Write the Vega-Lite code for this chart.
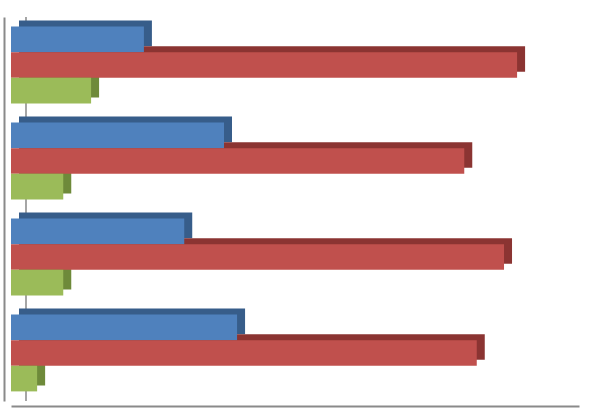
{
  "$schema": "https://vega.github.io/schema/vega-lite/v6.json",
  "width": 568,
  "height": 384,
  "autosize": {"type": "none"},
  "padding": {"left": 11, "top": 17, "right": 30, "bottom": 9},
  "background": "white",
  "config": {"view": {"stroke": null}},
  "data": {
    "values": [
      {"cat": "A", "series": "S1", "value": 23.4},
      {"cat": "A", "series": "S2", "value": 89.1},
      {"cat": "A", "series": "S3", "value": 14.1},
      {"cat": "B", "series": "S1", "value": 37.5},
      {"cat": "B", "series": "S2", "value": 79.8},
      {"cat": "B", "series": "S3", "value": 9.2},
      {"cat": "C", "series": "S1", "value": 30.5},
      {"cat": "C", "series": "S2", "value": 86.8},
      {"cat": "C", "series": "S3", "value": 9.2},
      {"cat": "D", "series": "S1", "value": 39.8},
      {"cat": "D", "series": "S2", "value": 82.0},
      {"cat": "D", "series": "S3", "value": 4.6}
    ]
  },
  "encoding": {
    "y": {
      "field": "cat", "type": "nominal",
      "scale": {"domain": ["A", "B", "C", "D"], "paddingInner": 0.2, "paddingOuter": 0.1},
      "axis": {"title": null, "labels": false, "ticks": false, "grid": false, "domain": true, "domainColor": "#8a8a8a", "domainWidth": 2, "offset": 7}
    }
  },
  "layer": [
    {
      "mark": {"type": "rule", "color": "#a6a6a6", "strokeWidth": 1.5},
      "encoding": {"x": {"datum": 2.64, "type": "quantitative"}, "y": null}
    },
    {
      "mark": {"type": "bar", "xOffset": 8},
      "encoding": {
        "x": {"field": "value", "type": "quantitative", "scale": {"domain": [0, 100], "nice": false},
          "axis": {"title": null, "labels": false, "ticks": false, "grid": false, "domain": true, "domainColor": "#8a8a8a", "domainWidth": 2, "offset": 5}},
        "yOffset": {"field": "series", "type": "nominal", "scale": {"domain": ["S1", "S2", "S3"], "paddingInner": 0, "paddingOuter": 0, "range": [-6, 70.8]}},
        "color": {"field": "series", "type": "nominal", "scale": {"domain": ["S1", "S2", "S3"], "range": ["#375d8a", "#8b3432", "#6e8a3a"]}, "legend": null}
      }
    },
    {
      "mark": {"type": "bar"},
      "encoding": {
        "x": {"field": "value", "type": "quantitative"},
        "yOffset": {"field": "series", "type": "nominal", "scale": {"domain": ["S1", "S2", "S3"], "paddingInner": 0, "paddingOuter": 0, "range": [0, 76.8]}},
        "color": {"field": "series", "type": "nominal", "scale": {"domain": ["S1", "S2", "S3"], "range": ["#4f81bd", "#c0504d", "#9bbb59"]}, "legend": null}
      }
    }
  ],
  "resolve": {"scale": {"color": "independent", "yOffset": "independent"}}
}
